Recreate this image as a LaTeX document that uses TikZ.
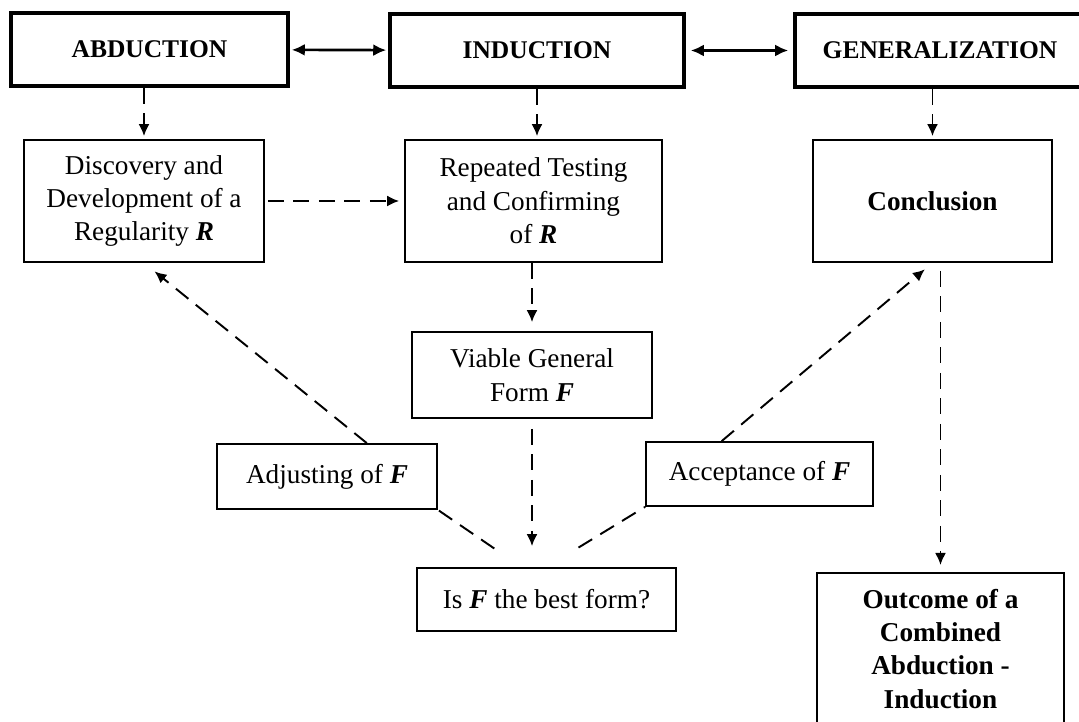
\documentclass[tikz,border=0pt]{standalone}
\usepackage{fontspec}
\setmainfont{Liberation Serif}
\usetikzlibrary{arrows,arrows.meta}

\tikzset{
  phase/.style={draw, line width=2pt, minimum height=1.46cm, font=\fontsize{14.5}{18}\selectfont\bfseries},
  stepbox/.style={draw, line width=1pt, align=center, font=\fontsize{15.5}{19}\selectfont},
  dline/.style={line width=1.1pt, dash pattern=on 0.32cm off 0.19cm},
  link/.style={{Latex[length=0.26cm,width=0.24cm]}-{Latex[length=0.26cm,width=0.24cm]}, line width=1.5pt},
}
\newcommand{\bfit}[1]{\textbf{\textit{#1}}}

\begin{document}
\begin{tikzpicture}[>={Latex[length=0.24cm,width=0.22cm]}]
\useasboundingbox (0,0) rectangle (21.58,-14.44);
\clip (0,0) rectangle (21.58,-14.44);

\node (abd) at (2.99,-0.99) [phase, minimum width=5.54cm] {ABDUCTION};
\node (ind) at (10.74,-1.01) [phase, minimum width=5.88cm] {INDUCTION};
\node (gen) at (18.80,-1.01) [phase, minimum width=5.80cm] {GENERALIZATION};

\node (disc) at (2.88,-4.02) [stepbox, minimum width=4.80cm, minimum height=2.44cm] {Discovery and\\Development of a\\Regularity \bfit{R}};
\node (rep) at (10.67,-4.02) [stepbox, minimum width=5.14cm, minimum height=2.44cm] {Repeated Testing\\and Confirming\\of \bfit{R}};
\node (conc) at (18.65,-4.02) [stepbox, minimum width=4.78cm, minimum height=2.44cm, font=\fontsize{15.5}{19}\selectfont\bfseries] {Conclusion};
\node (viab) at (10.64,-7.50) [stepbox, minimum width=4.80cm, minimum height=1.72cm] {Viable General\\Form \bfit{F}};
\node (adj) at (6.54,-9.53) [stepbox, minimum width=4.40cm, minimum height=1.30cm] {Adjusting of \bfit{F}};
\node (acc) at (15.19,-9.48) [stepbox, minimum width=4.54cm, minimum height=1.28cm] {Acceptance of \bfit{F}};
\node (isf) at (10.93,-11.99) [stepbox, minimum width=5.18cm, minimum height=1.26cm] {Is \bfit{F} the best form?};
\node (out) at (18.81,-11.44) [stepbox, anchor=north, minimum width=4.94cm, minimum height=3.04cm, font=\fontsize{15.5}{19}\selectfont\bfseries] {Outcome of a\\Combined\\Abduction -\\Induction};

% top row
\draw [link, shorten <=0.04cm, shorten >=0.04cm] (abd) -- (ind);
\draw [link, shorten <=0.1cm, shorten >=0.1cm] (ind) -- (gen);

% down from the phases
\draw [->, dline, shorten >=0.06cm] (disc.north |- abd.south) -- (disc.north);
\draw [->, dline, shorten >=0.06cm] (ind.south) -- (ind.south |- rep.north);
\draw [->, dline, shorten >=0.06cm] (conc.north |- gen.south) -- (conc.north);

\draw [->, dline, shorten <=0.06cm, shorten >=0.1cm] (disc) -- (rep);
\draw [->, dline, shorten >=0.18cm] (viab.north |- rep.south) -- (viab.north);
\draw [->, dline, shorten <=0.2cm, shorten >=0.42cm] (viab.south) -- (viab.south |- isf.north);

% loop back and forward
\draw [dline, shorten <=0.66cm] ([xshift=-0.5cm]isf.north) -- (adj.south east);
\draw [->, dline, shorten >=0.27cm] (adj.40) -- (disc.south);
\draw [dline, shorten <=0.75cm] (isf.north) -- (acc.south west);
\draw [->, dline, shorten >=0.2cm] (acc.139) -- (conc.south);
\draw [->, dline, shorten <=0.16cm, shorten >=0.14cm] (out.north |- conc.south) -- (out.north);
\end{tikzpicture}
\end{document}
